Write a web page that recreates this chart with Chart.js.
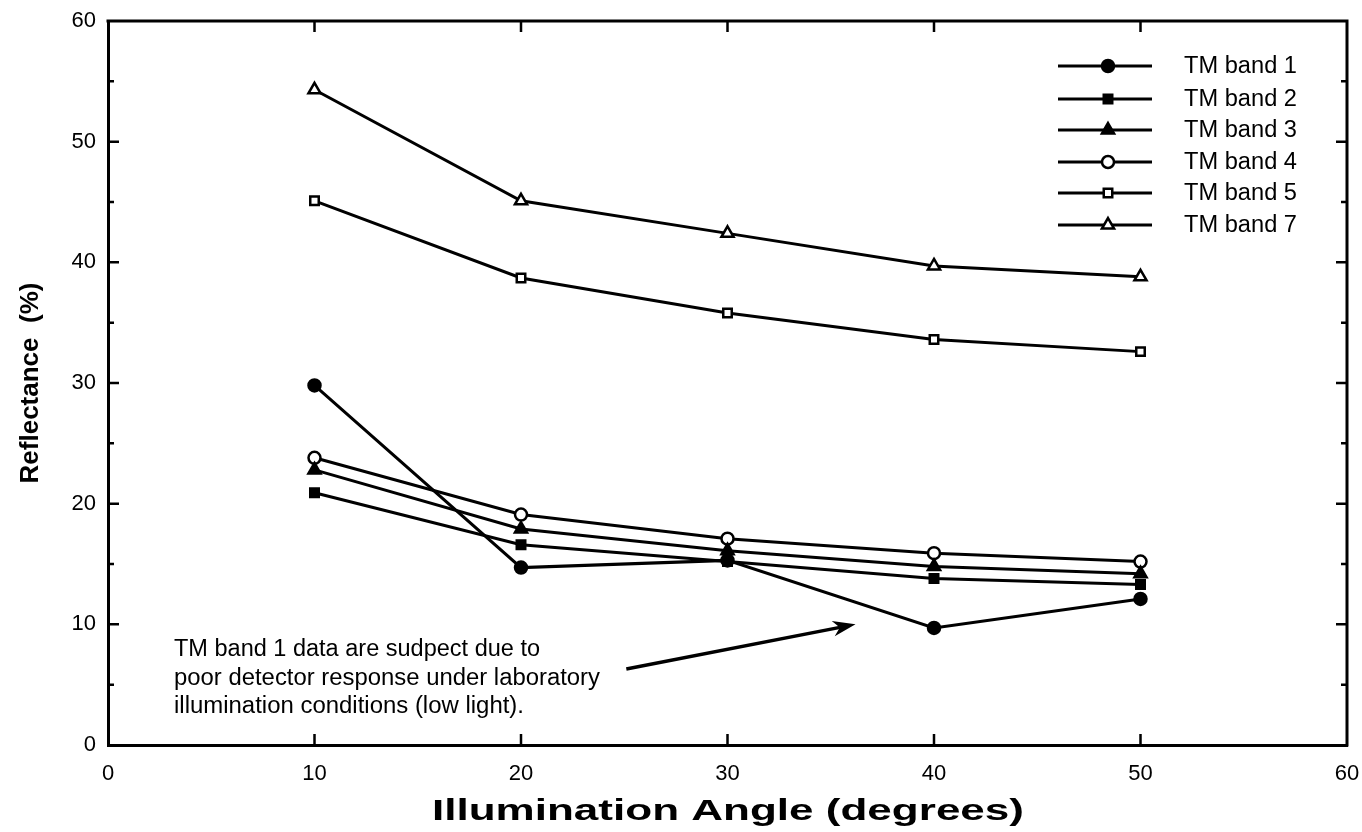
<!DOCTYPE html>
<html>
<head>
<meta charset="utf-8">
<script src="https://cdn.jsdelivr.net/npm/chart.js@4.4.1/dist/chart.umd.min.js"></script>
<style>
  html, body { margin: 0; padding: 0; background: #fff; }
  #wrap { width: 1362px; height: 832px; }
</style>
</head>
<body>
<div id="wrap"><canvas id="chart"></canvas></div>
<script>
// Data
const angles = [10, 20, 30, 40, 50];
const band1 = [29.8, 14.7, 15.3, 9.7, 12.1];
const band2 = [20.9, 16.6, 15.2, 13.8, 13.3];
const band3 = [22.8, 17.9, 16.1, 14.8, 14.2];
const band4 = [23.8, 19.1, 17.1, 15.9, 15.2];
const band5 = [45.1, 38.7, 35.8, 33.6, 32.6];
const band7 = [54.3, 45.1, 42.4, 39.7, 38.8];
const bandLabels = ['TM band 1', 'TM band 2', 'TM band 3', 'TM band 4', 'TM band 5', 'TM band 7'];
const bandValues = [band1, band2, band3, band4, band5, band7];
const bandStyles = [
  { pointStyle: 'circle', fill: '#000' },
  { pointStyle: 'rect', fill: '#000' },
  { pointStyle: 'triangle', fill: '#000' },
  { pointStyle: 'circle', fill: '#fff' },
  { pointStyle: 'rect', fill: '#fff' },
  { pointStyle: 'triangle', fill: '#fff' }
];
const noteLines = [
  'TM band 1 data are sudpect due to',
  'poor detector response under laboratory',
  'illumination conditions (low light).'
];
const xTitle = 'Illumination Angle (degrees)';

const FONT = '"Liberation Sans", Arial, Helvetica, sans-serif';

const datasets = bandValues.map((vals, i) => ({
  label: bandLabels[i],
  data: vals.map((v, j) => ({ x: angles[j], y: v })),
  borderColor: '#000',
  borderWidth: 3,
  pointStyle: bandStyles[i].pointStyle,
  pointRadius: bandStyles[i].pointStyle === 'triangle' ? 7 : 6,
  pointBorderWidth: 2.5,
  pointBorderColor: '#000',
  pointBackgroundColor: bandStyles[i].fill,
  tension: 0
}));

// text drawn a bit wider than the font, like the scanned original
function wideText(ctx, text, x, y, width, align) {
  const w = ctx.measureText(text).width;
  const k = width / w;
  ctx.save();
  ctx.translate(x, y);
  ctx.scale(k, 1);
  const dx = align === 'center' ? -w / 2 : 0;
  ctx.fillText(text, dx, 0);
  ctx.restore();
}

// frame, inward ticks, legend, x title and the note with its arrow
const decorPlugin = {
  id: 'decor',
  afterDraw(chart) {
    const { ctx, chartArea: a, scales } = chart;
    const xs = scales.x, ys = scales.y;
    ctx.save();
    ctx.strokeStyle = '#000';
    ctx.lineWidth = 3;
    ctx.lineCap = 'square';
    ctx.beginPath();
    ctx.moveTo(a.left, a.top); ctx.lineTo(a.right, a.top); ctx.lineTo(a.right, a.bottom);
    ctx.stroke();

    ctx.lineWidth = 2.5;
    ctx.lineCap = 'butt';
    ctx.beginPath();
    for (let v = 5; v < 60; v += 5) {
      const y = ys.getPixelForValue(v);
      const len = v % 10 === 0 ? 11 : 6;
      ctx.moveTo(a.left, y); ctx.lineTo(a.left + len, y);
      ctx.moveTo(a.right, y); ctx.lineTo(a.right - len, y);
    }
    for (let v = 10; v < 60; v += 10) {
      const x = xs.getPixelForValue(v);
      ctx.moveTo(x, a.bottom); ctx.lineTo(x, a.bottom - 11);
      ctx.moveTo(x, a.top); ctx.lineTo(x, a.top + 11);
    }
    ctx.stroke();

    // legend
    const lx0 = 1058, lx1 = 1152, lmid = 1108, tx = 1184;
    const rowY = [66, 99, 130, 162, 193, 225];
    ctx.font = '23px ' + FONT;
    ctx.textBaseline = 'middle';
    chart.data.datasets.forEach((ds, i) => {
      const y = rowY[i];
      ctx.lineWidth = 3;
      ctx.strokeStyle = '#000';
      ctx.beginPath(); ctx.moveTo(lx0, y); ctx.lineTo(lx1, y); ctx.stroke();
      ctx.fillStyle = ds.pointBackgroundColor;
      ctx.lineWidth = ds.pointBorderWidth;
      Chart.helpers.drawPoint(ctx, { pointStyle: ds.pointStyle, radius: ds.pointRadius, rotation: 0, borderWidth: ds.pointBorderWidth }, lmid, y);
      ctx.fillStyle = '#000';
      wideText(ctx, ds.label, tx, y + 1, 113, 'left');
    });

    // note
    ctx.font = '23px ' + FONT;
    ctx.textBaseline = 'alphabetic';
    ctx.fillStyle = '#000';
    const noteW = [366, 426, 350];
    noteLines.forEach((t, i) => wideText(ctx, t, 174, 656 + i * 28.5, noteW[i], 'left'));

    // x title
    ctx.font = 'bold 30px ' + FONT;
    ctx.textBaseline = 'alphabetic';
    wideText(ctx, xTitle, 728, 820, 592, 'center');

    // arrow
    const x0 = xs.getPixelForValue(25.1), y0 = ys.getPixelForValue(6.3);
    const x1 = xs.getPixelForValue(36.2), y1 = ys.getPixelForValue(10.0);
    const ang = Math.atan2(y1 - y0, x1 - x0);
    ctx.lineWidth = 3.5;
    ctx.beginPath(); ctx.moveTo(x0, y0); ctx.lineTo(x1 - 8 * Math.cos(ang), y1 - 8 * Math.sin(ang)); ctx.stroke();
    ctx.beginPath();
    ctx.moveTo(x1, y1);
    ctx.lineTo(x1 - 24 * Math.cos(ang - 0.33), y1 - 24 * Math.sin(ang - 0.33));
    ctx.lineTo(x1 - 16 * Math.cos(ang), y1 - 16 * Math.sin(ang));
    ctx.lineTo(x1 - 24 * Math.cos(ang + 0.33), y1 - 24 * Math.sin(ang + 0.33));
    ctx.closePath();
    ctx.fill();
    ctx.restore();
  }
};

new Chart(document.getElementById('chart'), {
  type: 'line',
  data: { datasets },
  options: {
    responsive: true,
    maintainAspectRatio: false,
    animation: false,
    layout: { padding: { top: 21, right: 15, left: 0, bottom: 0 } },
    plugins: { legend: { display: false }, tooltip: { enabled: false } },
    scales: {
      x: {
        type: 'linear', min: 0, max: 60,
        afterFit(s) { s.height = 87; s.paddingLeft = 0; s.paddingRight = 0; },
        grid: { display: false, drawTicks: false },
        border: { display: true, color: '#000', width: 3 },
        ticks: { stepSize: 10, color: '#000', padding: 16, font: { family: FONT, size: 22 }, maxRotation: 0 },
        title: { display: false }
      },
      y: {
        type: 'linear', min: 0, max: 60,
        afterFit(s) { s.width = 108; s.paddingTop = 0; s.paddingBottom = 0; },
        grid: { display: false, drawTicks: false },
        border: { display: true, color: '#000', width: 3 },
        ticks: { stepSize: 10, color: '#000', padding: 12, font: { family: FONT, size: 22 } },
        title: { display: true, text: 'Reflectance  (%)', color: '#000', font: { family: FONT, size: 26, weight: 'bold' }, padding: { top: 15, bottom: 0 } }
      }
    }
  },
  plugins: [decorPlugin]
});
</script>
</body>
</html>
